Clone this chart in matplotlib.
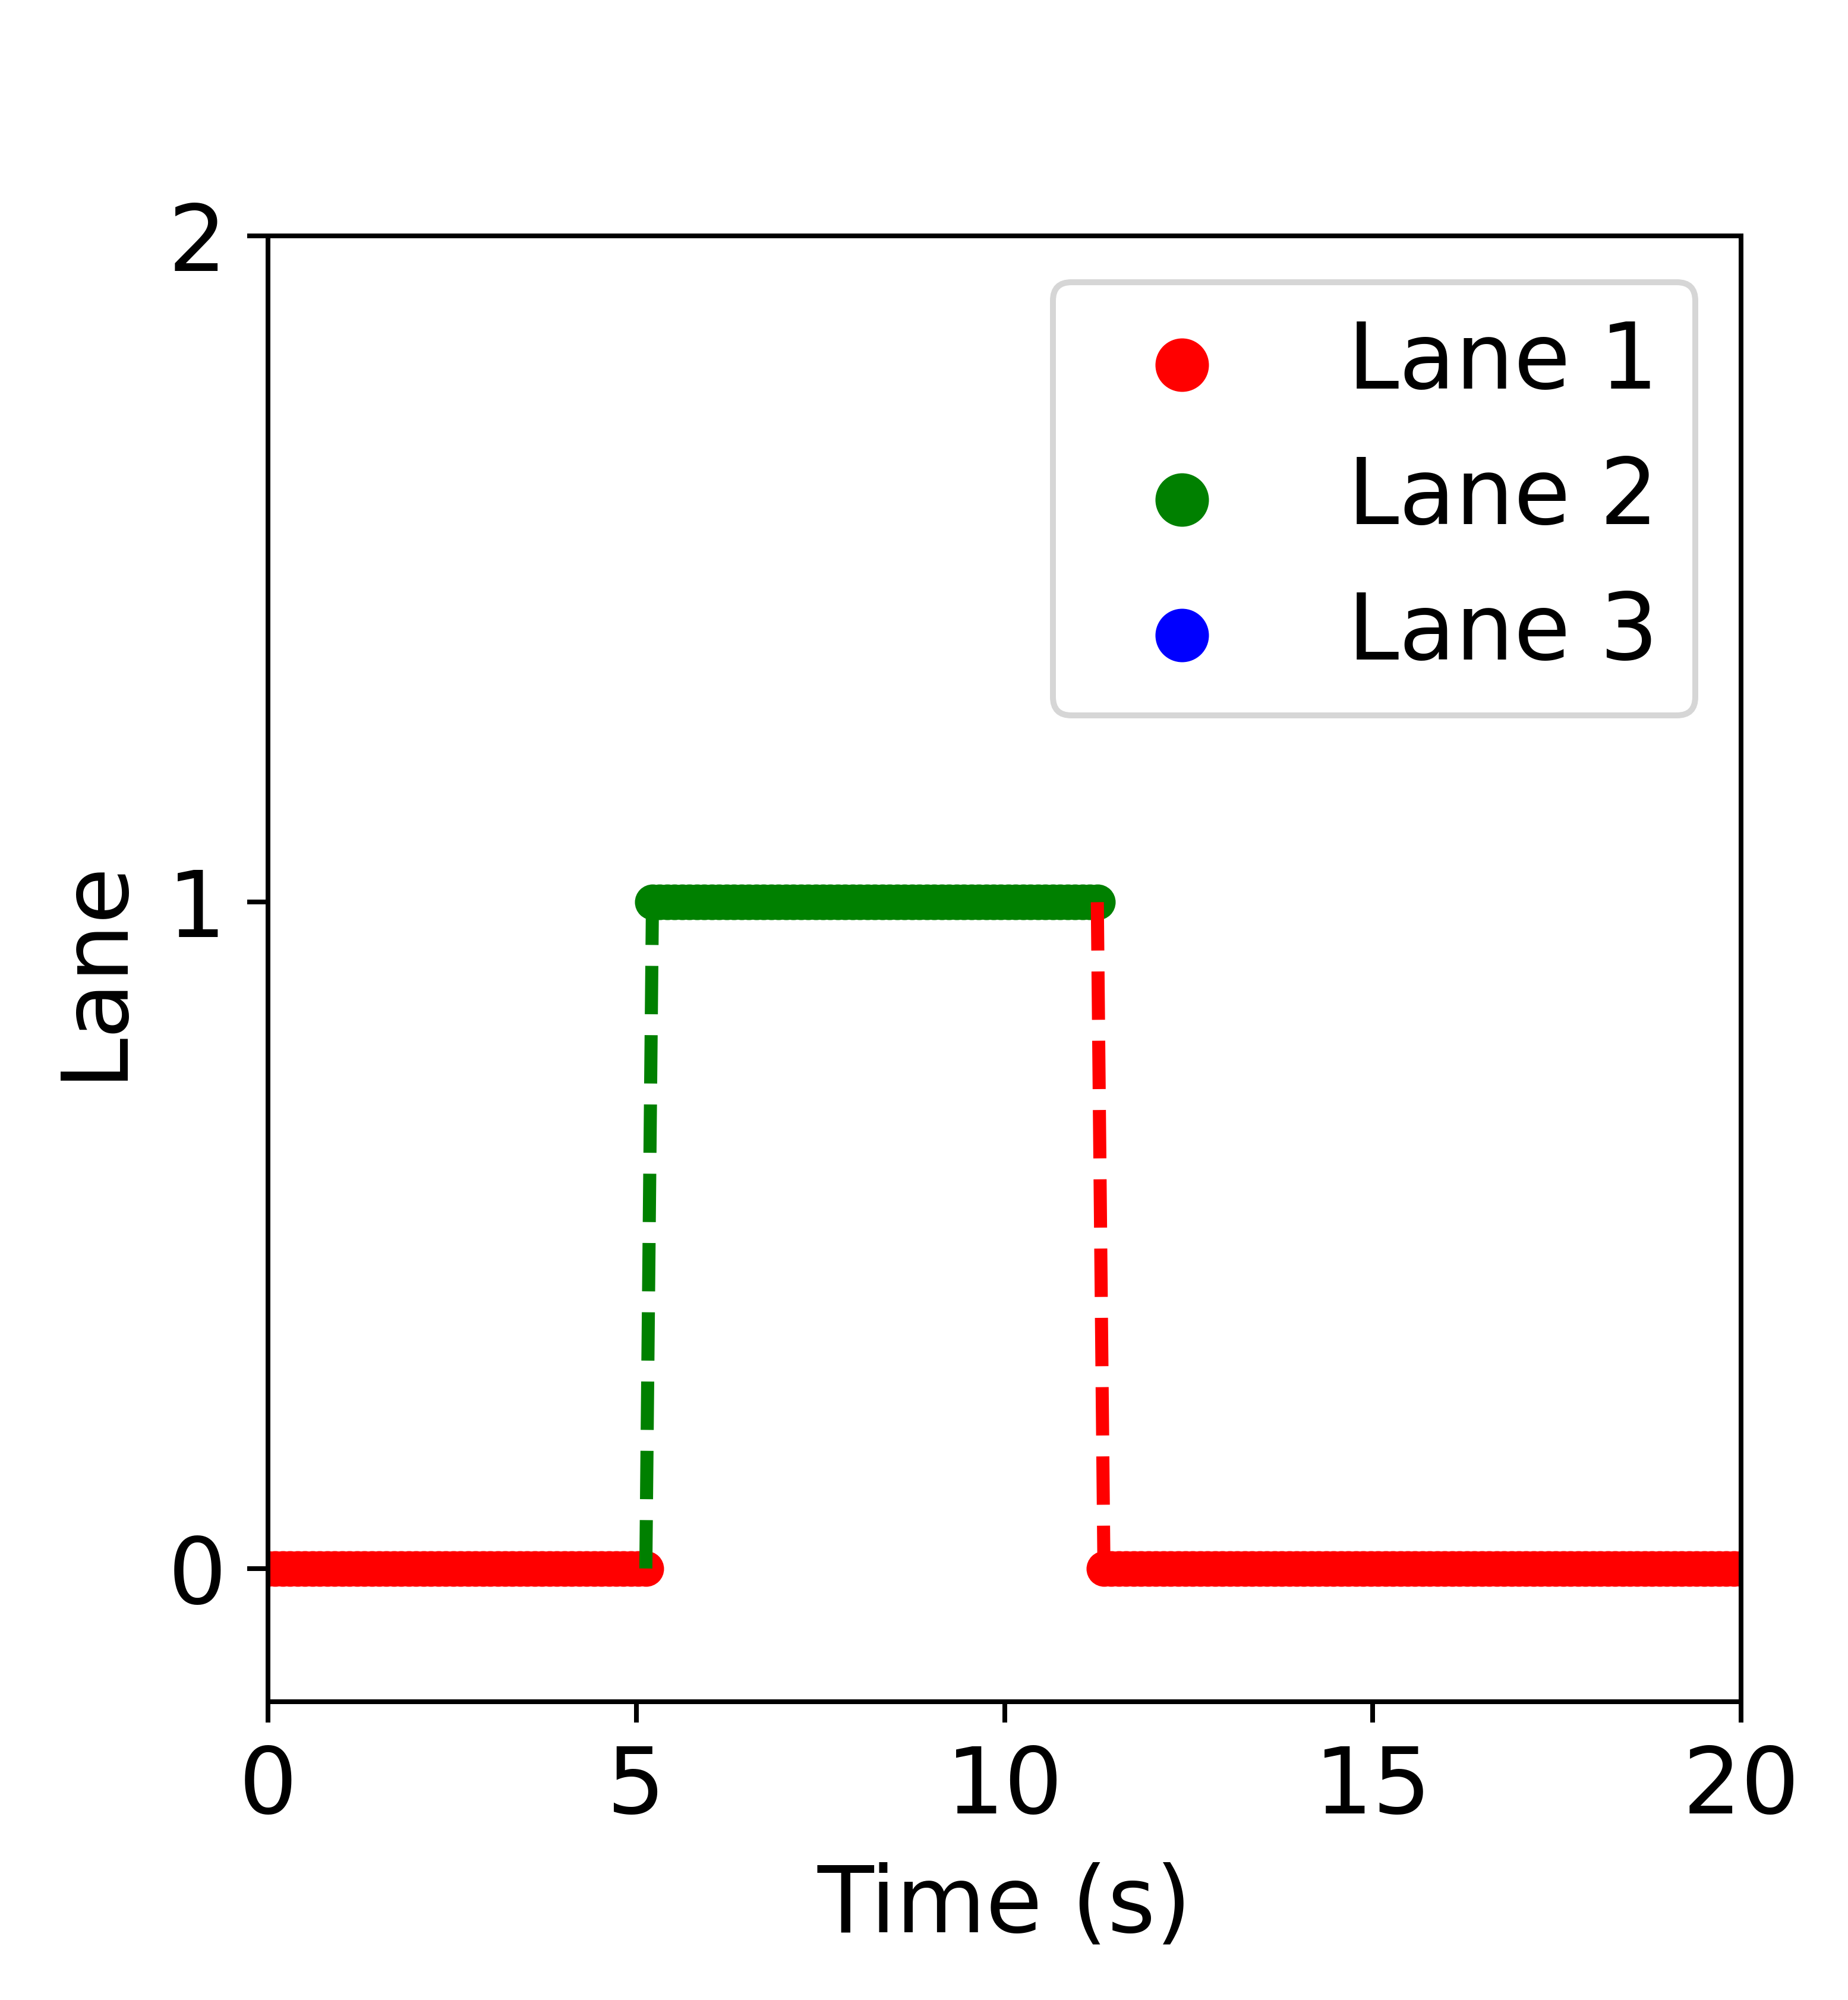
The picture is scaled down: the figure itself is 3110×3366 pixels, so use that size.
#!/usr/bin/env python3
"""Lane occupied over time, with dashed lines marking each lane change."""
import numpy as np
import matplotlib
matplotlib.use("Agg")
import matplotlib.pyplot as plt

# Lanes shown in the legend (index 0 -> "Lane 1", ...)
LANE_NAMES = ["Lane 1", "Lane 2", "Lane 3"]
LANE_COLORS = ["red", "green", "blue"]

# Segments: which lane, first and last sample time (s)
SEG_LANE = [0, 1, 0]
SEG_START = [0.0, 5.22, 11.35]
SEG_END = [5.13, 11.26, 20.0]
SAMPLE_DT = 0.1   # logging interval of the lane samples

XTICKS = [0, 5, 10, 15, 20]
YTICKS = [0, 1, 2]

DPI = 720
W_PX, H_PX = 3110, 3366


def main() -> int:
    plt.rcParams["font.size"] = 15.5

    fig = plt.figure(figsize=(W_PX / DPI, H_PX / DPI), dpi=DPI)
    left, right, top, bottom = 451, 2930, 397, 2864
    ax = fig.add_axes([left / W_PX, 1 - bottom / H_PX,
                       (right - left) / W_PX, (bottom - top) / H_PX])

    # ---- samples per segment -------------------------------------------
    for lane, t0, t1 in zip(SEG_LANE, SEG_START, SEG_END):
        n = int(round((t1 - t0) / SAMPLE_DT)) + 1
        t = np.linspace(t0, t1, n)
        ax.scatter(t, np.full(n, lane), color=LANE_COLORS[lane], s=36,
                   linewidths=0)

    # ---- lane changes: dashed, in the colour of the new lane ------------
    for i in range(1, len(SEG_LANE)):
        new = SEG_LANE[i]
        ax.plot([SEG_END[i - 1], SEG_START[i]], [SEG_LANE[i - 1], new],
                "--", color=LANE_COLORS[new], lw=2.2)

    # legend entries for every lane, used or not
    for name, col in zip(LANE_NAMES, LANE_COLORS):
        ax.scatter([], [], color=col, s=36, linewidths=0, label=name)
    ax.legend(loc="upper right", markerscale=1.5)

    ax.set_xlim(0, 20)
    ax.set_ylim(-0.2, 2)
    ax.set_xticks(XTICKS)
    ax.set_yticks(YTICKS)
    ax.set_xlabel("Time (s)", labelpad=5)
    ax.set_ylabel("Lane", labelpad=5)

    fig.savefig("out.png", dpi=DPI)
    return 0


if __name__ == "__main__":
    raise SystemExit(main())
